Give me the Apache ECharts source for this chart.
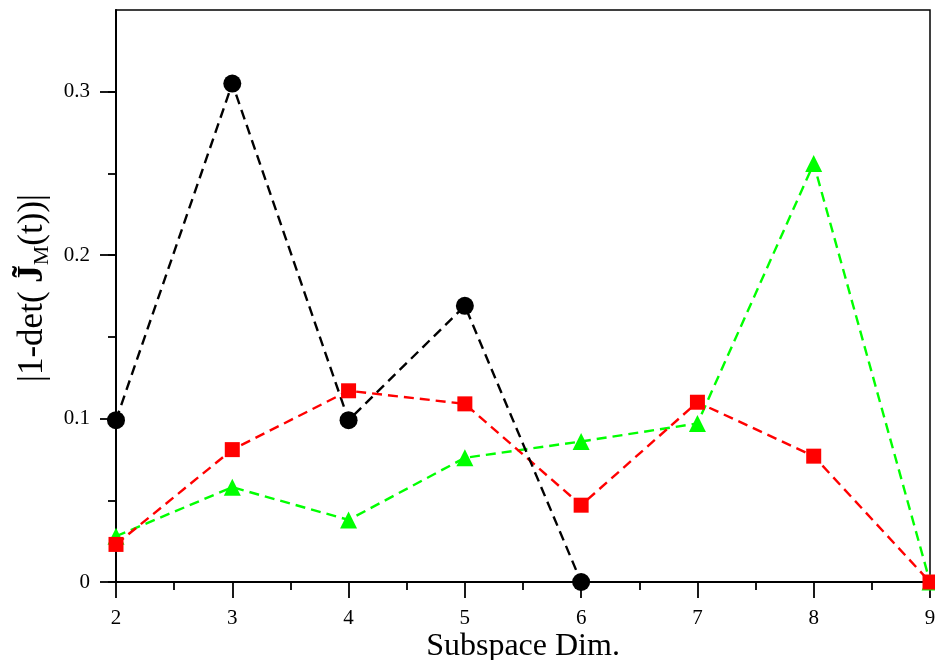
<!DOCTYPE html>
<html>
<head>
<meta charset="utf-8">
<script src="https://cdn.jsdelivr.net/npm/echarts@6/dist/echarts.min.js"></script>
<style>
html,body{margin:0;padding:0;background:#fff;overflow:hidden;}
#c{width:935px;height:660px;}
</style>
</head>
<body>
<div id="c"></div>
<script>
// Data
var dims = [2, 3, 4, 5, 6, 7, 8, 9];
var blackVals = [0.099, 0.305, 0.099, 0.169, 0];
var redVals = [0.023, 0.081, 0.117, 0.109, 0.047, 0.110, 0.077, 0];
var greenVals = [0.028, 0.058, 0.038, 0.076, 0.086, 0.097, 0.256, 0];
var yTickLabels = ['0', '0.1', '0.2', '0.3'];

function pairs(vals) {
  return vals.map(function (v, i) { return [dims[i], v]; });
}

var FONT = 'Liberation Serif';
var chart = echarts.init(document.getElementById('c'));
var dash = [10, 6];

chart.setOption({
  animation: false,
  backgroundColor: '#fff',
  grid: [
    {left: 116, right: 5, top: 10, bottom: 78, outerBoundsMode: 'none', containLabel: false,
     show: true, borderColor: '#000', borderWidth: 1.5, backgroundColor: 'transparent'},
    {left: 116, right: 5, top: 91.714, bottom: 78, outerBoundsMode: 'none', containLabel: false, show: false}
  ],
  xAxis: [
    {
      gridIndex: 0, type: 'value', min: 2, max: 9, interval: 1,
      axisLine: {show: true, onZero: false, lineStyle: {color: '#000', width: 2}},
      axisTick: {show: true, inside: false, length: 16, lineStyle: {color: '#000', width: 1.8}},
      minorTick: {show: true, splitNumber: 2, length: 8, lineStyle: {color: '#000', width: 1.8}},
      splitLine: {show: false},
      axisLabel: {fontFamily: FONT, fontSize: 21, color: '#000', margin: 26},
      name: 'Subspace Dim.', nameLocation: 'middle', nameGap: 49, nameMoveOverlap: false,
      nameTextStyle: {fontFamily: FONT, fontSize: 32, color: '#000'}
    },
    {gridIndex: 1, type: 'value', min: 2, max: 9, show: false}
  ],
  yAxis: [
    {
      gridIndex: 0, type: 'value', min: 0, max: 0.35, interval: 0.05,
      axisLine: {show: true, onZero: false, lineStyle: {color: '#000', width: 2}},
      axisTick: {show: true, inside: false, length: 8, lineStyle: {color: '#000', width: 1.8}},
      splitLine: {show: false},
      axisLabel: {
        fontFamily: FONT, fontSize: 21, color: '#000', margin: 26, showMaxLabel: false,
        formatter: function (v) {
          var k = Math.round(v * 100);
          if (k % 10 !== 0) return '';
          return yTickLabels[k / 10] || '';
        }
      },
      name: '|1-det( {b|J\u0303}{s|M}(t))|', nameLocation: 'middle', nameGap: 63, nameRotate: 90,
      nameMoveOverlap: false,
      nameTextStyle: {
        fontFamily: FONT, fontSize: 35, color: '#000', padding: [0, 0, 0, 16],
        rich: {
          b: {fontFamily: FONT, fontSize: 35, fontWeight: 'bold', color: '#000'},
          s: {fontFamily: FONT, fontSize: 22, color: '#000', verticalAlign: 'bottom', padding: [18, 0, 0, 0]}
        }
      }
    },
    {
      gridIndex: 1, type: 'value', min: 0, max: 0.3, interval: 0.1,
      axisLine: {show: false},
      axisTick: {show: true, inside: false, length: 16, lineStyle: {color: '#000', width: 1.8}},
      axisLabel: {show: false},
      splitLine: {show: false}
    }
  ],
  series: [
    {
      type: 'line', xAxisIndex: 0, yAxisIndex: 0, data: pairs(greenVals),
      symbol: 'triangle', symbolSize: 17, clip: false,
      lineStyle: {color: '#00ff00', width: 2.4, type: dash},
      itemStyle: {color: '#00ff00'}
    },
    {
      type: 'line', xAxisIndex: 0, yAxisIndex: 0, data: pairs(redVals),
      symbol: 'rect', symbolSize: 15, clip: false,
      lineStyle: {color: '#ff0000', width: 2.4, type: dash},
      itemStyle: {color: '#ff0000'}
    },
    {
      type: 'line', xAxisIndex: 0, yAxisIndex: 0, data: pairs(blackVals),
      symbol: 'circle', symbolSize: 18, clip: false,
      lineStyle: {color: '#000000', width: 2.4, type: dash},
      itemStyle: {color: '#000000'}
    }
  ]
});
</script>
</body>
</html>
